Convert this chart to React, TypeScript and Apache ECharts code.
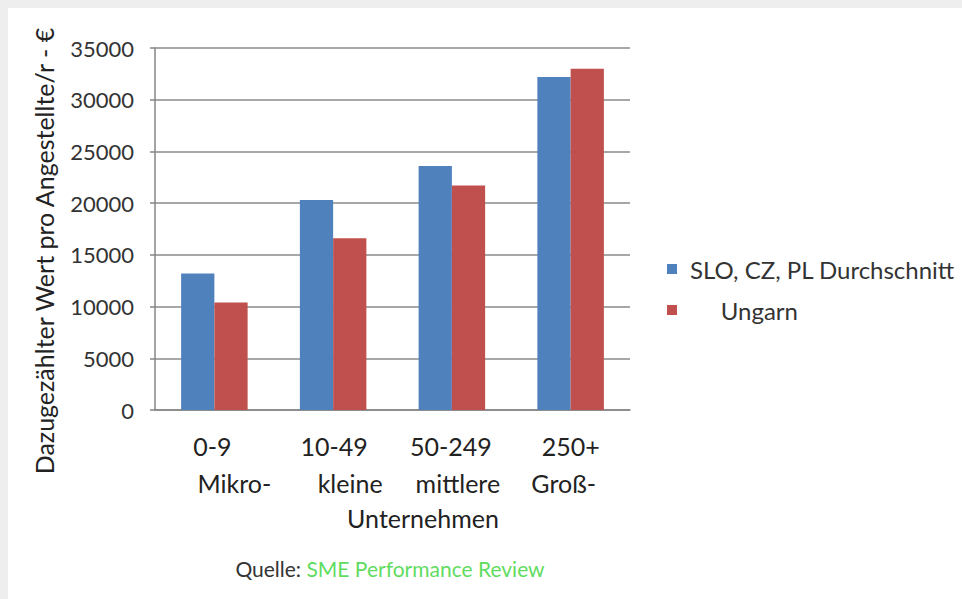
import React, { useEffect, useRef } from "react";
import * as echarts from "echarts";

const categoryRanges = ["0-9", "10-49", "50-249", "250+"];
const categorySizes = ["Mikro-", "kleine", "mittlere", "Groß-"];
const seriesNames = ["SLO, CZ, PL Durchschnitt", "Ungarn"];
const sloCzPl = [13200, 20300, 23600, 32200];
const ungarn = [10400, 16600, 21700, 33000];
const yTicks = { min: 0, max: 35000, interval: 5000 };
const yTitle = "Dazugezählter Wert pro Angestellte/r - €";
const xTitle = "Unternehmen";
const sourceLabel = "Quelle: ";
const sourceName = "SME Performance Review";

const categories = categoryRanges.map((r, i) => r + "\n" + categorySizes[i]);

const FONT = "Lato, 'Open Sans', sans-serif";
const MAIN = 25;

// horizontal label shifts (px) per category: [first line, second line]
const shifts = [
  [-2, 20],
  [1, 17],
  [-1, 6],
  [0, -7],
];
const pad = (s: number) => (s >= 0 ? [0, 0, 0, 2 * s] : [0, -2 * s, 0, 0]);
const rich: Record<string, any> = {};
shifts.forEach((sh, i) => {
  rich["a" + i] = { fontSize: MAIN, lineHeight: 37, fontFamily: FONT, color: "#222", padding: pad(sh[0]) };
  rich["b" + i] = { fontSize: MAIN, lineHeight: 37, fontFamily: FONT, color: "#222", padding: pad(sh[1]) };
});

export default function App() {
  const ref = useRef<HTMLDivElement>(null);
  useEffect(() => {
    document.body.style.margin = "0";
    const chart = echarts.init(ref.current!, null, { renderer: "svg" });
    chart.setOption({
      animation: false,
      backgroundColor: "#ffffff",
      textStyle: { fontFamily: FONT },
      grid: { left: 155, right: 332, top: 48, bottom: 189, containLabel: false },
      legend: {
        orient: "vertical",
        left: 662,
        top: 252,
        itemWidth: 10,
        itemHeight: 10,
        itemGap: 17,
        icon: "rect",
        textStyle: { fontSize: 24, color: "#333", fontFamily: FONT, padding: [0, 0, 0, 8] },
        formatter: (n: string) => (n === "Ungarn" ? "     " + n : n),
        data: seriesNames,
      },
      xAxis: {
        type: "category",
        data: categories,
        axisLine: { lineStyle: { color: "#868686", width: 1.5 } },
        axisTick: { show: false },
        axisLabel: {
          margin: 17,
          interval: 0,
          formatter: (_v: string, idx: number) =>
            `{a${idx}|${categoryRanges[idx]}}\n{b${idx}|${categorySizes[idx]}}`,
          rich,
        },
      },
      yAxis: {
        type: "value",
        min: yTicks.min,
        max: yTicks.max,
        interval: yTicks.interval,
        axisLine: { show: true, lineStyle: { color: "#868686", width: 1.5 } },
        axisTick: { show: true, length: 5, lineStyle: { color: "#868686", width: 1.5 } },
        splitLine: { lineStyle: { color: "#8a8a8a", width: 1.5 } },
        axisLabel: {
          fontSize: 22,
          color: "#333",
          margin: 21,
          fontFamily: FONT,
          formatter: (v: number) => String(v),
        },
      },
      series: [
        {
          name: seriesNames[0],
          type: "bar",
          data: sloCzPl,
          barGap: "0%",
          barCategoryGap: "44%",
          itemStyle: { color: "#4f81bd" },
        },
        {
          name: seriesNames[1],
          type: "bar",
          data: ungarn,
          barGap: "0%",
          barCategoryGap: "44%",
          itemStyle: { color: "#c0504d" },
        },
      ],
      graphic: [
        { type: "rect", left: 0, top: 0, shape: { width: 962, height: 8 }, style: { fill: "#eeeeee" }, silent: true },
        { type: "rect", left: 0, top: 0, shape: { width: 8, height: 599 }, style: { fill: "#eeeeee" }, silent: true },
        {
          type: "text",
          x: 44,
          y: 251,
          rotation: Math.PI / 2,
          style: {
            text: yTitle,
            fontSize: MAIN,
            fontFamily: FONT,
            fill: "#222",
            align: "center",
            verticalAlign: "middle",
          },
        },
        {
          type: "text",
          x: 423,
          y: 518,
          style: {
            text: xTitle,
            fontSize: MAIN,
            fontFamily: FONT,
            fill: "#222",
            align: "center",
            verticalAlign: "middle",
          },
        },
        {
          type: "text",
          x: 390,
          y: 568,
          style: {
            text: `{a|${sourceLabel}}{b|${sourceName}}`,
            align: "center",
            verticalAlign: "middle",
            rich: {
              a: { fontSize: 21, fontFamily: FONT, fill: "#333", color: "#333" },
              b: { fontSize: 21, fontFamily: FONT, fill: "#5fdc5f", color: "#5fdc5f" },
            },
          },
        },
      ],
    });
    return () => chart.dispose();
  }, []);
  return <div ref={ref} style={{ width: 962, height: 599 }} />;
}
